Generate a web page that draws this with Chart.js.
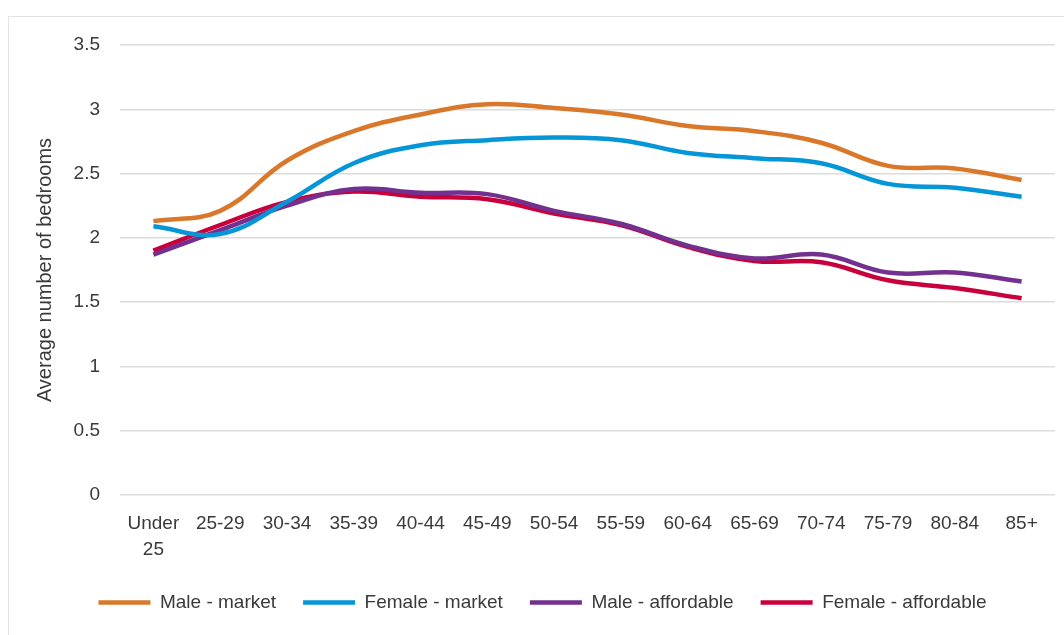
<!DOCTYPE html>
<html>
<head>
<meta charset="utf-8">
<script src="https://cdn.jsdelivr.net/npm/chart.js@4"></script>
<style>
    html, body { margin: 0; padding: 0; background: #fff; overflow: hidden; }
    .frame { position: absolute; left: 8px; top: 16px; width: 1100px; height: 700px; border: 1.5px solid #e3e3e3; }
    .wrap { position: absolute; left: 0; top: 0; width: 1064px; height: 635px; }
</style>
</head>
<body>
<div class="frame"></div>
<div class="wrap"><canvas id="myChart" width="1064" height="635"></canvas></div>
<script>
// age bands
var ageGroups = [['Under', '25'], '25-29', '30-34', '35-39', '40-44', '45-49', '50-54',
    '55-59', '60-64', '65-69', '70-74', '75-79', '80-84', '85+'];

// average number of bedrooms
var maleMarket = [2.13, 2.21, 2.60, 2.83, 2.96, 3.04, 3.01, 2.96, 2.87, 2.83, 2.74, 2.56, 2.54, 2.45];
var femaleMarket = [2.09, 2.03, 2.28, 2.58, 2.72, 2.76, 2.78, 2.76, 2.66, 2.62, 2.58, 2.42, 2.39, 2.32];
var maleAffordable = [1.87, 2.06, 2.25, 2.38, 2.35, 2.34, 2.21, 2.11, 1.94, 1.84, 1.87, 1.73, 1.73, 1.66];
var femaleAffordable = [1.90, 2.10, 2.28, 2.36, 2.32, 2.30, 2.19, 2.10, 1.93, 1.82, 1.81, 1.67, 1.61, 1.53];

var yTicks = [0, 0.5, 1, 1.5, 2, 2.5, 3, 3.5];

var textColor = '#3a3a3a';
var fontFamily = '"Liberation Sans", Arial, sans-serif';

function series(label, data, color) {
    return {
        label: label,
        data: data,
        borderColor: color,
        backgroundColor: color,
        borderWidth: 4.5,
        pointRadius: 0,
        tension: 0.4,
        fill: false
    };
}

const ctx = document.getElementById('myChart').getContext('2d');
const myChart = new Chart(ctx, {
    type: 'line',
    data: {
        labels: ageGroups,
        datasets: [
            series('Male - market', maleMarket, '#d9782a'),
            series('Female - market', femaleMarket, '#0496d6'),
            series('Male - affordable', maleAffordable, '#74308e'),
            series('Female - affordable', femaleAffordable, '#c8003c')
        ]
    },
    options: {
        responsive: false,
        animation: false,
        layout: { padding: { left: 30, right: 9, top: 45, bottom: 13 } },
        plugins: {
            tooltip: { enabled: false },
            legend: {
                position: 'bottom',
                labels: {
                    usePointStyle: true,
                    pointStyle: 'line',
                    pointStyleWidth: 52,
                    padding: 27,
                    color: textColor,
                    font: { family: fontFamily, size: 19 }
                }
            }
        },
        scales: {
            x: {
                offset: true,
                grid: { display: false, drawTicks: false },
                border: { display: false },
                ticks: {
                    padding: 16,
                    maxRotation: 0,
                    autoSkip: false,
                    color: textColor,
                    font: { family: fontFamily, size: 19, lineHeight: 1.35 }
                },
                afterFit: function (scale) { scale.height = 71; }
            },
            y: {
                min: 0,
                max: 3.5,
                afterBuildTicks: function (scale) {
                    scale.ticks = yTicks.map(function (v) { return { value: v }; });
                },
                grid: { color: '#dcdcdc', lineWidth: 1.5, drawTicks: false },
                border: { display: false },
                ticks: {
                    padding: 20,
                    color: textColor,
                    font: { family: fontFamily, size: 19 },
                    callback: function (value) { return String(value); }
                },
                title: {
                    display: true,
                    text: 'Average number of bedrooms',
                    color: textColor,
                    padding: { top: 3, bottom: 0 },
                    font: { family: fontFamily, size: 20 }
                },
                afterFit: function (scale) { scale.width = 90; }
            }
        }
    }
});
</script>
</body>
</html>
